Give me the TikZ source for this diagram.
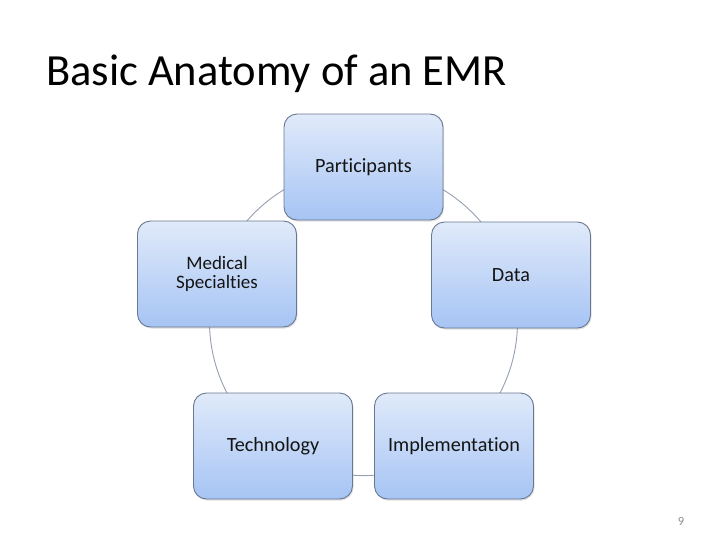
\documentclass[tikz,border=0pt]{standalone}
\usepackage{fontspec}
\setmainfont{Carlito}[Ligatures=CommonOff]
\usetikzlibrary{shadows}
\definecolor{ringgray}{RGB}{150,160,178}
\definecolor{boxedge}{RGB}{105,120,145}
\definecolor{boxtop}{RGB}{224,234,250}
\definecolor{boxbot}{RGB}{166,196,244}
\definecolor{labeltext}{RGB}{20,20,20}
\definecolor{pagegray}{RGB}{140,140,140}
\tikzset{
  pbox/.style={draw=boxedge, line width=0.9pt, rounded corners=13pt,
    top color=boxtop, bottom color=boxbot, minimum width=159pt, minimum height=106pt,
    align=center, font=\fontsize{20.2}{23}\selectfont, text=labeltext,
    drop shadow={shadow xshift=1pt, shadow yshift=-1.5pt, opacity=0.25}},
  twoline/.style={font=\fontsize{19}{19.5}\selectfont},
  ring/.style={draw=ringgray, line width=0.9pt}
}
\begin{document}
\begin{tikzpicture}[x=1pt,y=-1pt]
\useasboundingbox (0,0) rectangle (728,546);
\fill[white] (0,0) rectangle (728,546);
\coordinate (ctr) at (363.5,321.6);
\draw[ring] (ctr) circle[radius=154];
\node[pbox] (part) at (363.5,167) {Participants};
\node[pbox] (data) at (511,275) {Data};
\node[pbox] (impl) at (454,446) {Implementation};
\node[pbox] (tech) at (273,446) {Technology};
\node[pbox, twoline] (med) at (217,274) {Medical\\Specialties};
\node[anchor=base west, font=\fontsize{44.5}{50}\selectfont, inner sep=0pt] (title) at (46,85) {Basic Anatomy of an EMR};
\node[anchor=base, font=\fontsize{12.5}{14}\selectfont, text=pagegray, inner sep=0pt] (pnum) at (681,525) {9};
\end{tikzpicture}
\end{document}
